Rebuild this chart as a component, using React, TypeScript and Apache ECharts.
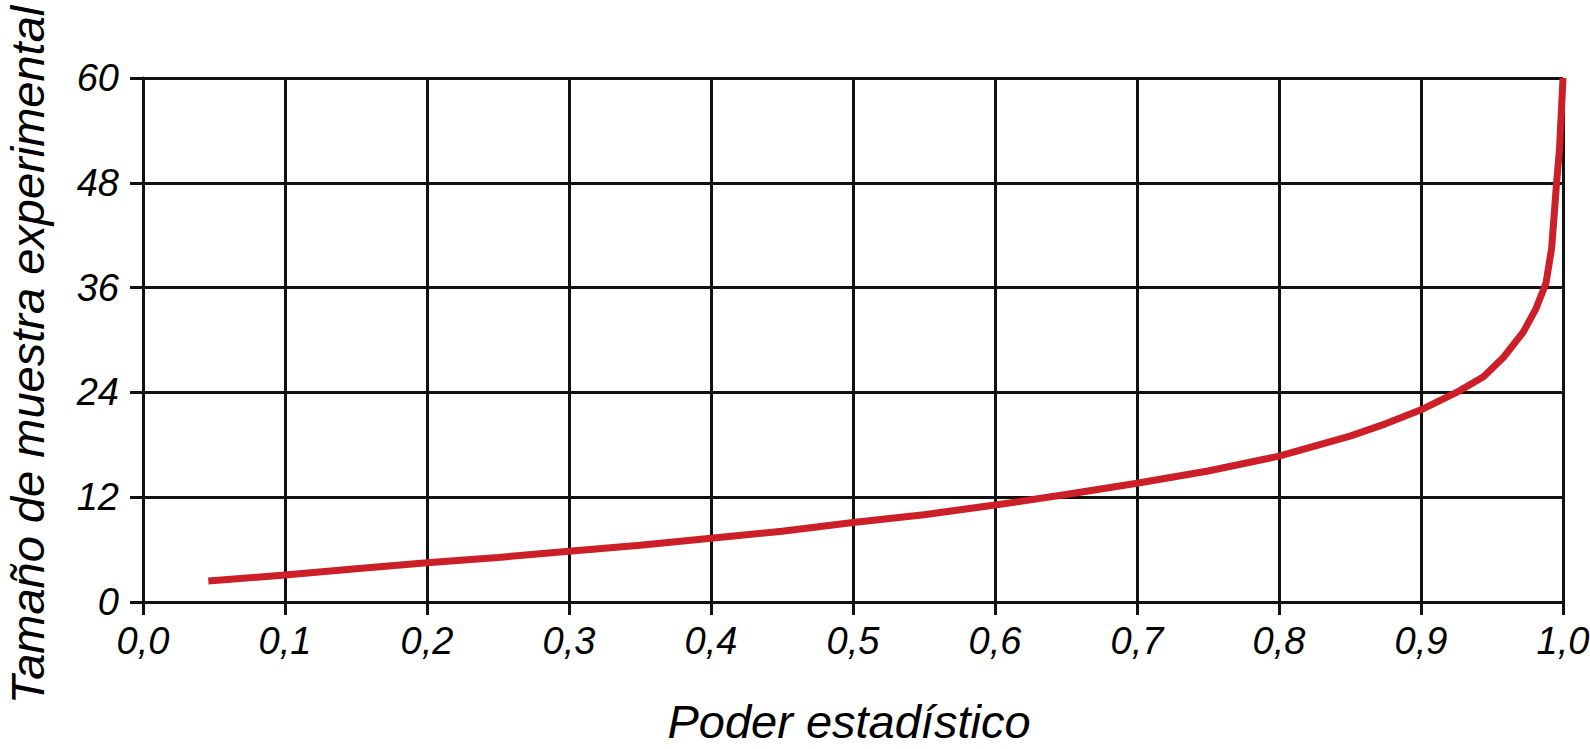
import React, { useEffect, useRef } from "react";
import * as echarts from "echarts";

const power: number[] = [
  0.046, 0.1, 0.15, 0.2, 0.25, 0.3, 0.35, 0.4, 0.45, 0.5, 0.55, 0.6, 0.65, 0.7,
  0.75, 0.8, 0.85, 0.875, 0.9, 0.925, 0.944, 0.958, 0.972, 0.981, 0.988,
  0.992, 0.9955, 0.9976, 1.0,
];
const sampleSize: number[] = [
  2.4, 3.1, 3.8, 4.5, 5.1, 5.8, 6.5, 7.3, 8.1, 9.1, 10.0, 11.1, 12.3, 13.6,
  15.0, 16.7, 19.0, 20.4, 22.0, 24.0, 25.8, 28.0, 30.9, 33.6, 36.5, 40.5,
  48.0, 52.0, 60.0,
];
const xTitle = "Poder estadístico";
const yTitle = "Tamaño de muestra experimental";

const FONT = "'Liberation Sans', Arial, Helvetica, sans-serif";

export default function App() {
  const ref = useRef<HTMLDivElement>(null);
  useEffect(() => {
    document.body.style.margin = "0";
    const chart = echarts.init(ref.current!, null, { renderer: "svg" });
    const lineCol = "#111111";
    chart.setOption({
      animation: false,
      backgroundColor: "#ffffff",
      grid: { left: 143, right: 27, top: 78, bottom: 147, outerBoundsMode: "none" },
      xAxis: {
        type: "value",
        min: 0,
        max: 1,
        interval: 0.1,
        name: xTitle,
        nameLocation: "middle",
        nameGap: 98,
        nameTextStyle: {
          fontFamily: FONT,
          fontStyle: "italic",
          fontSize: 47,
          lineHeight: 42,
          color: "#000",
          padding: [0, 8, 0, 0],
        },
        axisLine: { show: true, lineStyle: { color: lineCol, width: 3 } },
        axisTick: { show: true, length: 13, lineStyle: { color: lineCol, width: 3 } },
        splitLine: { show: true, lineStyle: { color: lineCol, width: 3 } },
        axisLabel: {
          margin: 20,
          fontFamily: FONT,
          fontStyle: "italic",
          fontSize: 38,
          color: "#000",
          formatter: (v: number) => v.toFixed(1).replace(".", ","),
        },
      },
      yAxis: {
        type: "value",
        min: 0,
        max: 60,
        interval: 12,
        name: yTitle,
        nameLocation: "middle",
        nameGap: 92,
        nameTextStyle: {
          fontFamily: FONT,
          fontStyle: "italic",
          fontSize: 47,
          color: "#000",
          padding: [0, 30, 0, 0],
        },
        axisLine: { show: true, lineStyle: { color: lineCol, width: 3 } },
        axisTick: { show: true, length: 13, lineStyle: { color: lineCol, width: 3 } },
        splitLine: { show: true, lineStyle: { color: lineCol, width: 3 } },
        axisLabel: {
          margin: 24,
          fontFamily: FONT,
          fontStyle: "italic",
          fontSize: 38,
          color: "#000",
        },
      },
      series: [
        {
          type: "line",
          data: power.map((p, i) => [p, sampleSize[i]]),
          showSymbol: false,
          smooth: false,
          clip: false,
          lineStyle: { color: "#cc1f27", width: 7 },
          itemStyle: { color: "#cc1f27" },
        },
      ],
    });
    return () => chart.dispose();
  }, []);
  return <div ref={ref} style={{ width: 1590, height: 749 }} />;
}
